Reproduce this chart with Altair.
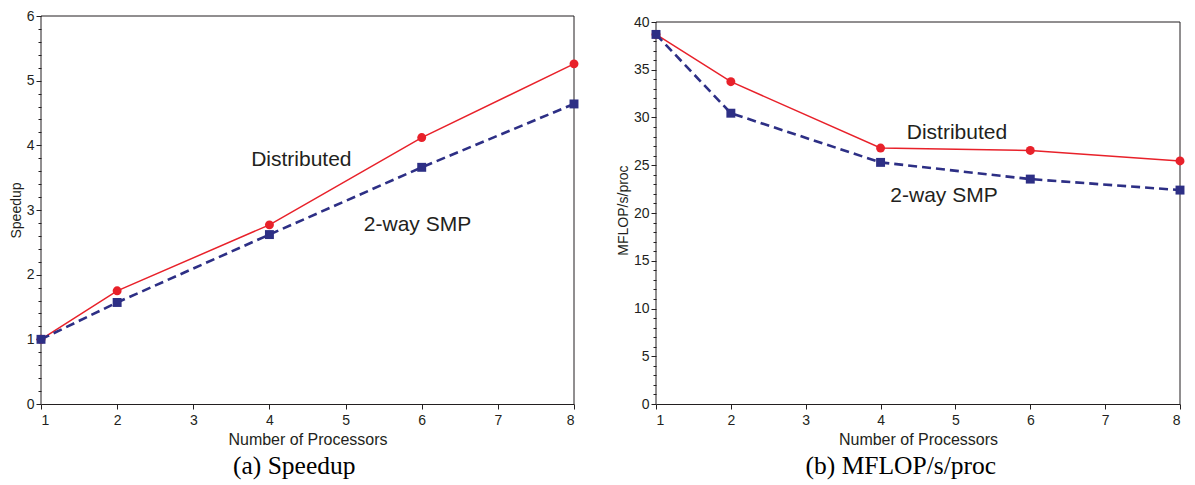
import altair as alt
import pandas as pd

# ---- data ----
procs = [1, 2, 4, 6, 8]
speedup_distributed = [1.0, 1.75, 2.77, 4.12, 5.26]
speedup_smp = [1.0, 1.57, 2.62, 3.66, 4.64]
mflops_distributed = [38.7, 33.75, 26.8, 26.55, 25.45]
mflops_smp = [38.7, 30.45, 25.3, 23.55, 22.4]

x_ticks = [1, 2, 3, 4, 5, 6, 7, 8]
speedup_ticks = [round(i * 0.2, 1) for i in range(31)]
mflops_ticks = list(range(0, 41))
speedup_range = [0, 6]
mflops_range = [0, 40]

series_labels = ["Distributed", "2-way SMP"]
speedup_label_x = [3.76, 5.24]
speedup_label_y = [3.68, 2.68]
mflops_label_x = [4.35, 4.13]
mflops_label_y = [27.76, 21.16]

captions = ["(a) Speedup", "(b) MFLOP/s/proc"]
x_title = "Number of Processors"
y_titles = ["Speedup", "MFLOP/s/proc"]

RED = "#e8212a"
NAVY = "#2d2f85"
INK = "#231f20"
SANS = "Liberation Sans"

PLOT_H = 388


def panel(yd, ys, yrange, yticks, major_test, ytitle, lx, ly, caption, w, top_gap):
    df = pd.DataFrame({"procs": procs, "dist": yd, "smp": ys})
    lab = pd.DataFrame({"x": lx, "y": ly, "t": series_labels})
    # frame: top, right and left edges of the plotting box
    frame = pd.DataFrame({"xa": [x_ticks[0], x_ticks[-1], x_ticks[0]],
                          "xb": [x_ticks[-1], x_ticks[-1], x_ticks[0]],
                          "ya": [yrange[1], yrange[0], yrange[0]],
                          "yb": [yrange[1], yrange[1], yrange[1]]})
    # extend the scale so the top of the data range sits top_gap px below the group top
    ymax = yrange[1] * PLOT_H / (PLOT_H - top_gap)

    xaxis = alt.Axis(values=x_ticks, format="d", title=x_title, grid=False,
                     tickSize=5, labelPadding=4, titlePadding=4,
                     labelFontSize=14, titleFontSize=16, labelOverlap=False)
    yaxis = alt.Axis(values=yticks, format=".1f", title=ytitle, grid=False, domain=False,
                     tickSize={"condition": {"test": major_test, "value": 5}, "value": 3},
                     labelExpr=f"({major_test}) ? format(datum.value, 'd') : ''",
                     labelPadding=2, titlePadding=3, labelOverlap=False,
                     labelFontSize=14, titleFontSize=14)
    xs = alt.Scale(domain=[x_ticks[0], x_ticks[-1]], nice=False, zero=False)
    ysc = alt.Scale(domain=[yrange[0], ymax], nice=False)

    def X(f):
        return alt.X(f"{f}:Q", scale=xs, axis=xaxis)

    def Y(f):
        return alt.Y(f"{f}:Q", scale=ysc, axis=yaxis)

    box = alt.Chart(frame).mark_rule(color=INK, strokeWidth=1).encode(
        x=X("xa"), x2="xb:Q", y=Y("ya"), y2="yb:Q")
    base = alt.Chart(df)
    line_d = base.mark_line(color=RED, strokeWidth=1.5).encode(x=X("procs"), y=Y("dist"))
    pts_d = base.mark_circle(color=RED, size=80, opacity=1).encode(x=X("procs"), y=Y("dist"))
    line_s = base.mark_line(color=NAVY, strokeWidth=2.6, strokeDash=[9, 5]).encode(x=X("procs"), y=Y("smp"))
    pts_s = base.mark_square(color=NAVY, size=80, opacity=1).encode(x=X("procs"), y=Y("smp"))
    text = alt.Chart(lab).mark_text(align="left", baseline="alphabetic", font=SANS,
                                    fontSize=21, color=INK).encode(
        x=X("x"), y=Y("y"), text="t:N")
    return alt.layer(box, line_d, pts_d, line_s, pts_s, text).properties(
        width=w, height=PLOT_H,
        view=alt.ViewBackground(stroke="transparent"),
        title=alt.TitleParams(caption, orient="bottom", anchor="middle", frame="bounds",
                              font="Liberation Serif", fontSize=25.5, fontWeight="normal",
                              color="black", offset=7),
    )


left = panel(speedup_distributed, speedup_smp, speedup_range, speedup_ticks,
             "abs(datum.value - round(datum.value)) < 0.001", y_titles[0],
             speedup_label_x, speedup_label_y, captions[0], 533, 0)
right = panel(mflops_distributed, mflops_smp, mflops_range, mflops_ticks,
              "abs(datum.value % 5) < 0.001", y_titles[1],
              mflops_label_x, mflops_label_y, captions[1], 524, 6)

chart = alt.hconcat(left, right, spacing=35).properties(padding=0).configure_view(
    stroke="transparent"
).configure_axis(
    domainColor=INK, tickColor=INK, labelColor=INK, titleColor=INK,
    labelFont=SANS, titleFont=SANS, titleFontWeight="normal",
    domainWidth=1, tickWidth=1,
)

chart.save("out.html", embed_options={"renderer": "svg", "actions": False})
